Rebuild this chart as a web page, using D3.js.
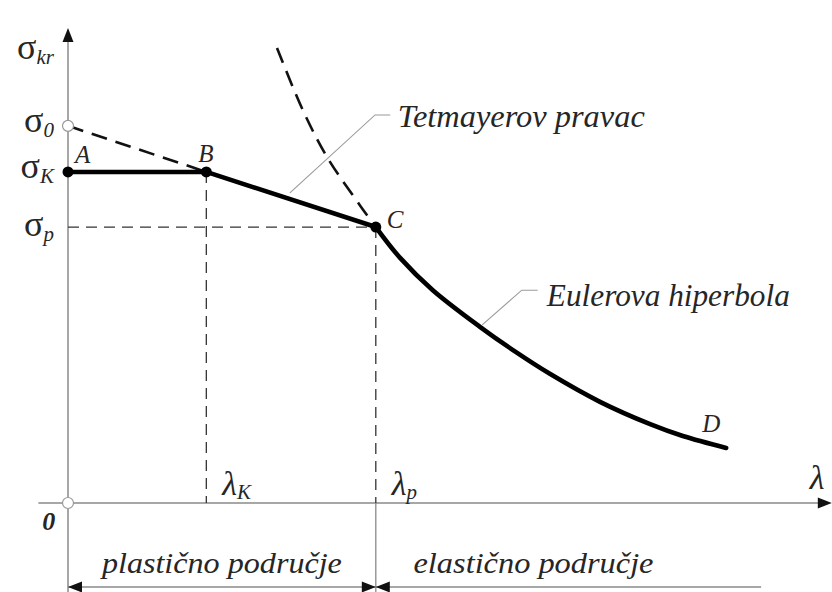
<!DOCTYPE html>
<html>
<head>
<meta charset="utf-8">
<script src="https://cdn.jsdelivr.net/npm/d3@7"></script>
<style>
  body { margin: 0; background: #fff; }
</style>
</head>
<body>
<div id="container"></div>
<script>
// characteristic points (lambda, sigma) in chart units
const lambdaK = 18.2
const lambdaP = 40.5
const sigma0 = 79.4
const sigmaK = 69.7
const sigmaP = 58.1

const pointA = [0, sigmaK]
const pointB = [lambdaK, sigmaK]
const pointC = [lambdaP, sigmaP]

// Euler hyperbola
const eulerSolid = [
  [40.5, 58.1], [43.7, 51.6], [48.0, 44.8], [54.2, 37.1], [59.1, 31.6],
  [63.4, 27.2], [70.0, 21.3], [76.6, 16.6], [80.9, 14.1], [86.6, 11.6]
]
const eulerDashed = [
  [27.5, 95.8], [30.9, 82.7], [34.1, 72.8], [38.4, 62.7], [40.5, 58.1]
]

const pointLabels = [
  { name: 'A', at: pointA, dx: 7, dy: -9 },
  { name: 'B', at: pointB, dx: -8, dy: -10 },
  { name: 'C', at: pointC, dx: 11, dy: 1 },
  { name: 'D', at: [86.6, 11.6], dx: -24, dy: -16 }
]

const width = 832
const height = 592
const serif = 'Liberation Serif'

const svg = d3.select('#container')
  .append('svg')
  .attr('width', width)
  .attr('height', height)

const xScale = d3.scaleLinear().domain([0, 100]).range([68, 828])
const yScale = d3.scaleLinear().domain([0, 100]).range([503, 28])

const line = d3.line()
  .x(d => xScale(d[0]))
  .y(d => yScale(d[1]))

const axisColor = '#8a8a8a'
const textColor = '#262626'

// axes
svg.append('line')
  .attr('x1', xScale(0)).attr('x2', xScale(0))
  .attr('y1', height).attr('y2', yScale(98))
  .attr('stroke', axisColor).attr('stroke-width', 1.5)
svg.append('line')
  .attr('x1', xScale(-3.9)).attr('x2', xScale(99))
  .attr('y1', yScale(0)).attr('y2', yScale(0))
  .attr('stroke', axisColor).attr('stroke-width', 1.5)

function arrow (x, y, dir) {
  // dir: 'up' | 'right' | 'left'
  const len = 14
  const hw = 5.5
  let pts
  if (dir === 'up') pts = [[x, y], [x - hw, y + len], [x + hw, y + len]]
  if (dir === 'right') pts = [[x, y], [x - len, y - hw], [x - len, y + hw]]
  if (dir === 'left') pts = [[x, y], [x + len, y - hw], [x + len, y + hw]]
  svg.append('path')
    .attr('d', 'M' + pts.join('L') + 'Z')
    .attr('fill', '#111')
}
arrow(xScale(0), yScale(100), 'up')
arrow(xScale(100.5), yScale(0), 'right')

// thin dashed guides
function guideLine (a, b) {
  svg.append('path')
    .attr('d', line([a, b]))
    .attr('fill', 'none')
    .attr('stroke', '#333')
    .attr('stroke-width', 1.3)
    .attr('stroke-dasharray', '11 7')
}
guideLine([0, sigmaP], pointC)
guideLine(pointB, [lambdaK, 0])
guideLine(pointC, [lambdaP, 0])

// solid vertical divider under lambda_p
svg.append('line')
  .attr('x1', xScale(lambdaP)).attr('x2', xScale(lambdaP))
  .attr('y1', yScale(0)).attr('y2', height)
  .attr('stroke', axisColor).attr('stroke-width', 1.3)

// Tetmayer extension and Euler extension (dashed, heavy)
svg.append('path')
  .attr('d', line([[0, sigma0], pointB]))
  .attr('fill', 'none')
  .attr('stroke', '#111')
  .attr('stroke-width', 2.6)
  .attr('stroke-dasharray', '16 9')
svg.append('path')
  .attr('d', line.curve(d3.curveCatmullRom)(eulerDashed))
  .attr('fill', 'none')
  .attr('stroke', '#111')
  .attr('stroke-width', 2.6)
  .attr('stroke-dasharray', '16 9')

// leader lines
const leaders = [
  [[29.2, 65.3], [40.4, 81.7], [42.4, 81.7]],
  [[54.5, 37.5], [59.7, 44.8], [61.8, 44.8]]
]
leaders.forEach(l => {
  svg.append('path')
    .attr('d', line.curve(d3.curveLinear)(l))
    .attr('fill', 'none')
    .attr('stroke', '#9a9a9a')
    .attr('stroke-width', 1.1)
})

// main curve A-B-C-D
svg.append('path')
  .attr('d', line.curve(d3.curveLinear)([pointA, pointB, pointC]))
  .attr('fill', 'none')
  .attr('stroke', '#000')
  .attr('stroke-width', 4.6)
  .attr('stroke-linejoin', 'round')
svg.append('path')
  .attr('d', line.curve(d3.curveCatmullRom)(eulerSolid))
  .attr('fill', 'none')
  .attr('stroke', '#000')
  .attr('stroke-width', 4.6)
  .attr('stroke-linecap', 'round')

// points
svg.selectAll('.pt')
  .data([pointA, pointB, pointC])
  .enter().append('circle')
  .attr('cx', d => xScale(d[0]))
  .attr('cy', d => yScale(d[1]))
  .attr('r', 5.5)
  .attr('fill', '#000')
svg.selectAll('.open')
  .data([[0, sigma0], [0, 0]])
  .enter().append('circle')
  .attr('cx', d => xScale(d[0]))
  .attr('cy', d => yScale(d[1]))
  .attr('r', 5.5)
  .attr('fill', '#fff')
  .attr('stroke', '#999')
  .attr('stroke-width', 1.2)

// point labels
svg.selectAll('.plabel')
  .data(pointLabels)
  .enter().append('text')
  .attr('x', d => xScale(d.at[0]) + d.dx)
  .attr('y', d => yScale(d.at[1]) + d.dy)
  .attr('font-family', serif)
  .attr('font-size', 25)
  .attr('font-style', 'italic')
  .attr('fill', textColor)
  .text(d => d.name)

// sigma labels on the y axis
const sigmaLabels = [
  { sub: 'kr', value: 93.5 },
  { sub: '0', value: sigma0 - 1.3 },
  { sub: 'K', value: sigmaK - 1.3 },
  { sub: 'p', value: sigmaP - 1.8 }
]
sigmaLabels.forEach(s => {
  const t = svg.append('text')
    .attr('x', xScale(0) - 14)
    .attr('y', yScale(s.value))
    .attr('text-anchor', 'end')
    .attr('font-family', serif)
    .attr('fill', textColor)
  t.append('tspan').attr('font-size', 36).text('σ')
  t.append('tspan')
    .attr('font-size', 21)
    .attr('font-style', 'italic')
    .attr('dy', 5)
    .text(s.sub)
})

// lambda labels
const lambdaLabels = [
  { sub: 'K', value: lambdaK, dx: 16 },
  { sub: 'p', value: lambdaP, dx: 16 }
]
lambdaLabels.forEach(l => {
  const t = svg.append('text')
    .attr('x', xScale(l.value) + l.dx)
    .attr('y', yScale(0) - 8)
    .attr('font-family', serif)
    .attr('font-style', 'italic')
    .attr('fill', textColor)
  t.append('tspan').attr('font-size', 34).text('λ')
  t.append('tspan').attr('font-size', 21).attr('dy', 4).text(l.sub)
})
svg.append('text')
  .attr('x', xScale(97.6))
  .attr('y', yScale(0) - 14)
  .attr('font-family', serif)
  .attr('font-size', 34)
  .attr('font-style', 'italic')
  .attr('fill', textColor)
  .text('λ')
svg.append('text')
  .attr('x', xScale(-3.4))
  .attr('y', yScale(0) + 27)
  .attr('font-family', serif)
  .attr('font-size', 26)
  .attr('font-style', 'italic')
  .attr('font-weight', 'bold')
  .attr('fill', textColor)
  .text('0')

// curve names
const names = [
  { text: 'Tetmayerov pravac', x: 43.4, y: 79.2, len: 247 },
  { text: 'Eulerova hiperbola', x: 63.0, y: 41.5, len: 243 }
]
names.forEach(n => {
  svg.append('text')
    .attr('x', xScale(n.x))
    .attr('y', yScale(n.y))
    .attr('font-family', serif)
    .attr('font-size', 31)
    .attr('font-style', 'italic')
    .attr('fill', textColor)
    .attr('textLength', n.len)
    .attr('lengthAdjust', 'spacingAndGlyphs')
    .text(n.text)
})

// regions along the bottom
const dimY = 587
svg.append('line')
  .attr('x1', xScale(0)).attr('x2', xScale(91.2))
  .attr('y1', dimY).attr('y2', dimY)
  .attr('stroke', axisColor).attr('stroke-width', 1.3)
arrow(xScale(0), dimY, 'left')
arrow(xScale(lambdaP), dimY, 'right')
arrow(xScale(lambdaP), dimY, 'left')

const regions = [
  { text: 'plastično područje', from: 0, to: lambdaP },
  { text: 'elastično područje', from: lambdaP, to: 82 }
]
regions.forEach(r => {
  svg.append('text')
    .attr('x', (xScale(r.from) + xScale(r.to)) / 2)
    .attr('y', 573)
    .attr('text-anchor', 'middle')
    .attr('font-family', serif)
    .attr('font-size', 29)
    .attr('font-style', 'italic')
    .attr('fill', textColor)
    .attr('textLength', 240)
    .attr('lengthAdjust', 'spacingAndGlyphs')
    .text(r.text)
})
</script>
</body>
</html>
